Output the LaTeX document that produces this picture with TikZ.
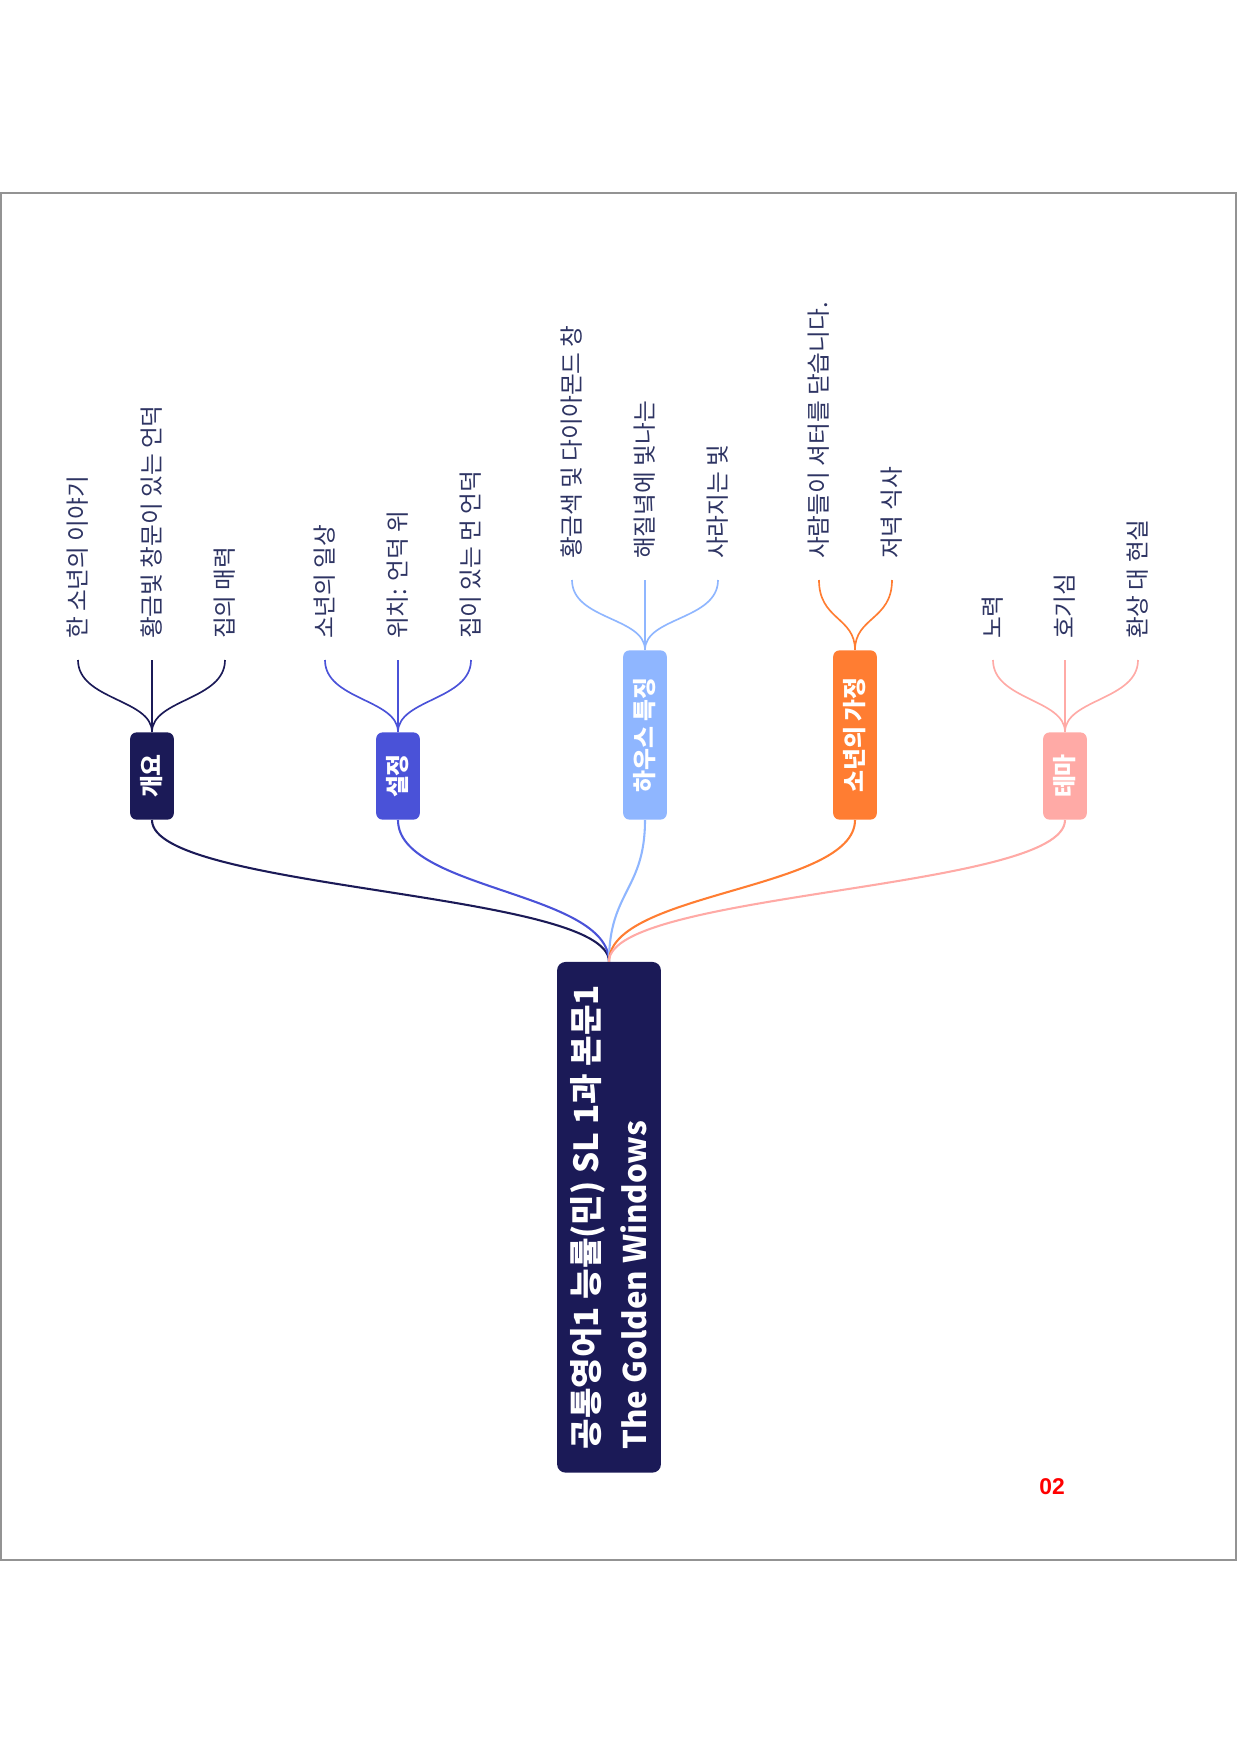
\documentclass[tikz,border=0pt]{standalone}
\usepackage{fontspec}
\setmainfont{Noto Sans CJK KR}
\newfontfamily\pagefont{Liberation Sans}

\definecolor{navy}{HTML}{1B1A57}
\definecolor{setblue}{HTML}{4A52D8}
\definecolor{houseblue}{HTML}{8FB6FF}
\definecolor{homeorange}{HTML}{FF7D32}
\definecolor{themepink}{HTML}{FFAAA6}
\definecolor{leaftext}{HTML}{2E3463}

\begin{document}
\begin{tikzpicture}[x=0.16933mm,y=-0.16933mm,
  root/.style={rotate=90,anchor=west,fill=navy,text=white,rounded corners=4pt,
    minimum width=246pt,minimum height=50pt,align=left,
    font=\bfseries\fontsize{16}{23}\selectfont},
  branch/.style={rotate=90,anchor=west,text=white,rounded corners=3pt,
    minimum width=42pt,minimum height=21pt,inner xsep=13pt,
    font=\bfseries\fontsize{11.5}{13}\selectfont},
  short/.style={inner xsep=9.5pt},
  leaf/.style={rotate=90,anchor=west,inner xsep=10pt,inner ysep=0pt,
    text=leaftext,font=\fontsize{11.4}{13}\selectfont},
  link/.style={line width=1pt},
  twig/.style={line width=0.8pt}]
\useasboundingbox (0,0) rectangle (1240,1754);
\draw[gray!85,line width=0.6pt] (1,193) rectangle (1236,1560);

% centre and main topics
\node[root] (root) at (609,1473) {공통영어1 능률(민) SL 1과 본문1\\{\fontsize{15}{23}\selectfont The Golden Windows}};
\node[branch,short,fill=navy] (b1) at (152,820) {개요};
\node[branch,short,fill=setblue] (b2) at (398,820) {설정};
\node[branch,fill=houseblue] (b3) at (645,820) {하우스 특징};
\node[branch,fill=homeorange] (b4) at (855,820) {소년의 가정};
\node[branch,short,fill=themepink] (b5) at (1065,820) {테마};

\draw[link,navy] (root.east) .. controls +(0,-70) and +(0,70) .. (b1.west);
\draw[link,setblue] (root.east) .. controls +(0,-70) and +(0,70) .. (b2.west);
\draw[link,houseblue] (root.east) .. controls +(0,-70) and +(0,70) .. (b3.west);
\draw[link,homeorange] (root.east) .. controls +(0,-70) and +(0,70) .. (b4.west);
\draw[link,themepink] (root.east) .. controls +(0,-70) and +(0,70) .. (b5.west);

% subtopics
\node[leaf] (l11) at (78,660) {한 소년의 이야기};
\node[leaf] (l12) at (152,660) {황금빛 창문이 있는 언덕};
\node[leaf] (l13) at (225,660) {집의 매력};
\draw[twig,navy] (b1.east) .. controls +(0,-33) and +(0,40) .. (l11.west);
\draw[twig,navy] (b1.east) -- (l12.west);
\draw[twig,navy] (b1.east) .. controls +(0,-33) and +(0,40) .. (l13.west);

\node[leaf] (l21) at (325,660) {소년의 일상};
\node[leaf] (l22) at (398,660) {위치: 언덕 위};
\node[leaf] (l23) at (471,660) {집이 있는 먼 언덕};
\draw[twig,setblue] (b2.east) .. controls +(0,-33) and +(0,40) .. (l21.west);
\draw[twig,setblue] (b2.east) -- (l22.west);
\draw[twig,setblue] (b2.east) .. controls +(0,-33) and +(0,40) .. (l23.west);

\node[leaf] (l31) at (572,580) {황금색 및 다이아몬드 창};
\node[leaf] (l32) at (645,580) {해질녘에 빛나는};
\node[leaf] (l33) at (718,580) {사라지는 빛};
\draw[twig,houseblue] (b3.east) .. controls +(0,-33) and +(0,40) .. (l31.west);
\draw[twig,houseblue] (b3.east) -- (l32.west);
\draw[twig,houseblue] (b3.east) .. controls +(0,-33) and +(0,40) .. (l33.west);

\node[leaf] (l41) at (819,580) {사람들이 셔터를 닫습니다.};
\node[leaf] (l42) at (892,580) {저녁 식사};
\draw[twig,homeorange] (b4.east) .. controls +(0,-33) and +(0,40) .. (l41.west);
\draw[twig,homeorange] (b4.east) .. controls +(0,-33) and +(0,40) .. (l42.west);

\node[leaf] (l51) at (993,660) {노력};
\node[leaf] (l52) at (1065,660) {호기심};
\node[leaf] (l53) at (1138,660) {환상 대 현실};
\draw[twig,themepink] (b5.east) .. controls +(0,-33) and +(0,40) .. (l51.west);
\draw[twig,themepink] (b5.east) -- (l52.west);
\draw[twig,themepink] (b5.east) .. controls +(0,-33) and +(0,40) .. (l53.west);

\node[text=red,font=\pagefont\bfseries\fontsize{11}{13}\selectfont] (page) at (1052,1487) {02};
\end{tikzpicture}
\end{document}
